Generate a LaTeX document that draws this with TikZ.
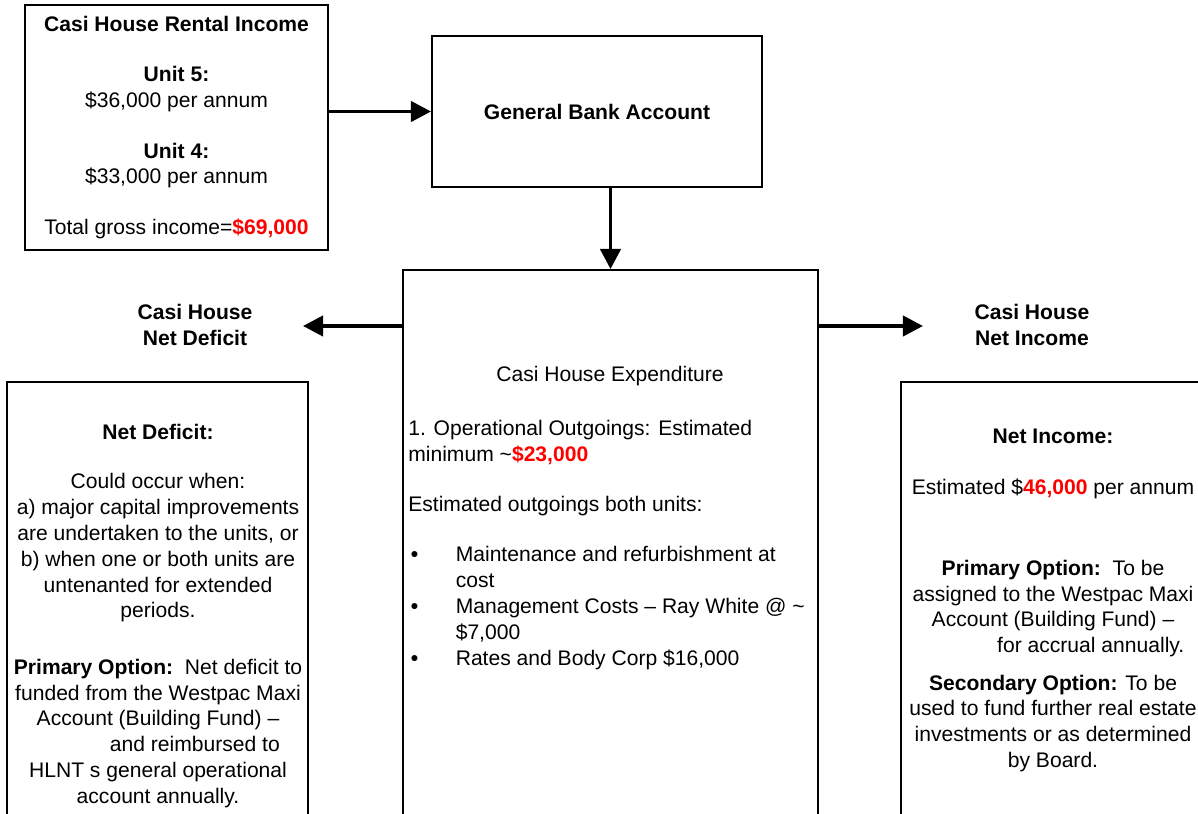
\documentclass[tikz,border=0pt]{standalone}
\usepackage{fontspec}
\setmainfont{Liberation Sans}
\usetikzlibrary{arrows.meta}
\definecolor{moneyred}{RGB}{255,0,0}
\newcommand{\amt}[1]{\textbf{\color{moneyred}#1}}

\begin{document}
\begin{tikzpicture}[x=0.02cm,y=-0.02cm,
  box/.style={draw,line width=1.1pt,inner sep=0pt},
  txt/.style={align=center,inner sep=0pt,font=\fontsize{12}{14.7}\selectfont},
  flow/.style={-{Triangle[length=11.5pt,width=11.5pt]},line width=2.2pt}]
  \useasboundingbox (0,0) rectangle (1198,814);
  \clip (0,0) rectangle (1198,814);

  % boxes
  \node[box,txt,minimum width=6.06cm,minimum height=4.9cm] (rent) at (176.5,127.5) {\textbf{Casi House Rental Income}\\[13.9pt] \textbf{Unit 5:}\\ \$36,000 per annum\\[13.9pt] \textbf{Unit 4:}\\ \$33,000 per annum\\[13.9pt] Total gross income=\amt{\$69,000}};
  \node[box,txt,minimum width=6.6cm,minimum height=3.02cm] (bank) at (597,111.5) {\textbf{General Bank Account}};
  \node[box,minimum width=8.3cm,minimum height=12.6cm] (exp) at (610.5,585) {};
  \node[box,minimum width=6.02cm,minimum height=10.36cm] (deficit) at (157.5,641) {};
  \node[box,minimum width=6.2cm,minimum height=10.36cm] (income) at (1056,641) {};

  % labels
  \node[txt] (defLabel) at (195,325) {\textbf{Casi House}\\ \textbf{Net Deficit}};
  \node[txt] (incLabel) at (1032,325) {\textbf{Casi House}\\ \textbf{Net Income}};

  % box texts
  \node[txt] (expTitle) at (610,376) {Casi House Expenditure};
  \node[txt,align=left,anchor=north west] (expBody) at (408,420) {1. Operational Outgoings: Estimated\\ minimum \textasciitilde\amt{\$23,000}\\[13.9pt] Estimated outgoings both units:\\[13.9pt] \makebox[27pt][l]{\hspace{1.5pt}\textbf{•}}Maintenance and refurbishment at\\ \hspace*{27pt}cost\\ \makebox[27pt][l]{\hspace{1.5pt}\textbf{•}}Management Costs -- Ray White @ \textasciitilde\\ \hspace*{27pt}\$7,000\\ \makebox[27pt][l]{\hspace{1.5pt}\textbf{•}}Rates and Body Corp \$16,000};
  \node[txt,anchor=north] (defText) at (158,424) {\textbf{Net Deficit:}\\[13.3pt] Could occur when:\\ a) major capital improvements\\ are undertaken to the units, or\\ b) when one or both units are\\ untenanted for extended\\ periods.\\[17.3pt] \textbf{Primary Option:}\ \ Net deficit to\\ funded from the Westpac Maxi\\ Account (Building Fund) --\\ \hspace*{42pt}and reimbursed to\\ HLNT s general operational\\ account annually.};
  \node[txt,anchor=north] (incText) at (1053,429) {\textbf{Net Income:}\\[13.9pt] Estimated \$\amt{46,000} per annum\\[31.5pt] \textbf{Primary Option:}\ \ To be\\ assigned to the Westpac Maxi\\ Account (Building Fund) --\\ \hspace*{43pt}for accrual annually.\\[6.5pt] \textbf{Secondary Option:} To be\\ used to fund further real estate\\ investments or as determined\\ by Board.};

  % arrows
  \coordinate (defEnd) at (303,326);
  \coordinate (incEnd) at (923,326);
  \path[flow]
    (bank.west -| rent.east) edge (bank.west)
    (bank.south -| exp.north) edge (exp.north)
    (exp.west |- defEnd) edge (defEnd)
    (exp.east |- incEnd) edge (incEnd);
\end{tikzpicture}
\end{document}
